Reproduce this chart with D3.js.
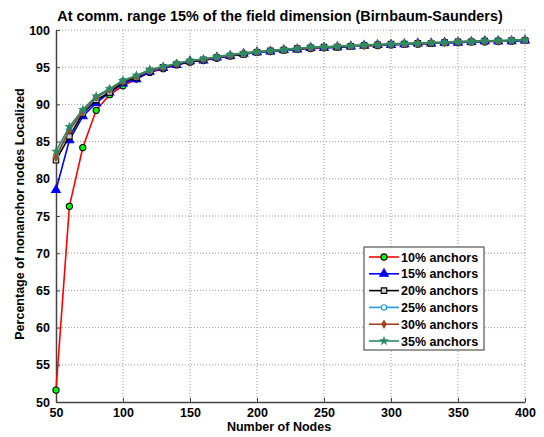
<!DOCTYPE html>
<html lang="en">
<head>
  <meta charset="UTF-8">
  <title>Birnbaum-Saunders localization</title>
  <script src="https://d3js.org/d3.v7.min.js"></script>
  <style>
    body { margin: 0; background: #fff; }
    text { font-family: Arial, "Liberation Sans", sans-serif; font-weight: bold; fill: #000; }
    .grid line { stroke: #999; stroke-dasharray: 1,2; }
    .axis path, .axis line { stroke: #444; }
  </style>
</head>
<body>
<svg id="chart" width="544" height="437"></svg>
<script>
  // data
  const nodes = d3.range(50, 401, 10);
  const labels = ["10% anchors", "15% anchors", "20% anchors", "25% anchors", "30% anchors", "35% anchors"];
  const anchors10 = [51.6, 76.3, 84.2, 89.2, 91.3, 92.5, 93.4, 94.3, 94.8, 95.3, 95.7, 95.9, 96.2, 96.5, 96.8, 97.0, 97.1, 97.3, 97.4, 97.5, 97.6, 97.7, 97.8, 97.9, 97.9, 98.0, 98.1, 98.1, 98.2, 98.3, 98.3, 98.4, 98.4, 98.5, 98.5, 98.6];
  const anchors15 = [78.5, 85.2, 88.4, 90.2, 91.6, 92.8, 93.4, 94.4, 94.9, 95.3, 95.8, 95.9, 96.3, 96.5, 96.8, 97.0, 97.1, 97.3, 97.4, 97.6, 97.6, 97.7, 97.8, 97.9, 98.0, 98.0, 98.1, 98.2, 98.2, 98.3, 98.3, 98.4, 98.5, 98.5, 98.5, 98.6];
  const anchors20 = [82.5, 85.7, 88.8, 90.6, 91.6, 93.0, 93.6, 94.5, 95.0, 95.4, 95.7, 96.0, 96.3, 96.5, 96.7, 97.0, 97.2, 97.3, 97.5, 97.6, 97.7, 97.7, 97.8, 97.9, 98.0, 98.1, 98.1, 98.2, 98.2, 98.3, 98.4, 98.4, 98.5, 98.5, 98.6, 98.6];
  const anchors25 = [83.0, 86.6, 89.0, 90.9, 92.0, 93.2, 93.8, 94.5, 95.0, 95.5, 95.8, 96.1, 96.3, 96.6, 96.8, 97.0, 97.2, 97.3, 97.5, 97.6, 97.7, 97.8, 97.8, 97.9, 98.0, 98.1, 98.1, 98.2, 98.3, 98.3, 98.4, 98.4, 98.5, 98.5, 98.6, 98.6];
  const anchors30 = [82.9, 86.5, 89.1, 91.0, 92.0, 93.1, 93.8, 94.6, 95.0, 95.5, 95.9, 96.0, 96.4, 96.6, 96.9, 97.1, 97.2, 97.4, 97.5, 97.6, 97.7, 97.8, 97.9, 97.9, 98.0, 98.1, 98.2, 98.2, 98.3, 98.3, 98.4, 98.5, 98.5, 98.5, 98.6, 98.7];
  const anchors35 = [83.7, 87.0, 89.3, 91.1, 92.1, 93.2, 93.9, 94.7, 95.1, 95.5, 95.9, 96.1, 96.4, 96.7, 96.9, 97.1, 97.2, 97.4, 97.5, 97.7, 97.7, 97.8, 97.9, 98.0, 98.0, 98.1, 98.2, 98.2, 98.3, 98.3, 98.4, 98.5, 98.5, 98.6, 98.6, 98.7];
  const xTicks = [50, 100, 150, 200, 250, 300, 350, 400];
  const yTicks = [50, 55, 60, 65, 70, 75, 80, 85, 90, 95, 100];

  // series styling (line colour, marker shape, marker fill, marker size)
  const series = [
    { name: labels[0], values: anchors10, color: "#ff0000", shape: d3.symbolCircle, fill: "#00ff00", stroke: "#000", size: 30 },
    { name: labels[1], values: anchors15, color: "#0000ff", shape: d3.symbolTriangle, fill: "#0000ff", stroke: "#0000ff", size: 32 },
    { name: labels[2], values: anchors20, color: "#000000", shape: d3.symbolSquare, fill: "#cfcfcf", stroke: "#000", size: 30 },
    { name: labels[3], values: anchors25, color: "#1e9be6", shape: d3.symbolCircle, fill: "#ffffff", stroke: "#1e9be6", size: 22 },
    { name: labels[4], values: anchors30, color: "#a0461a", shape: d3.symbolDiamond, fill: "#a0461a", stroke: "#a0461a", size: 16 },
    { name: labels[5], values: anchors35, color: "#2e8b61", shape: d3.symbolStar, fill: "#2e8b61", stroke: "#2e8b61", size: 14 }
  ];

  const svg = d3.select("#chart");
  const margin = { top: 30, right: 19, bottom: 35, left: 56 };
  const width = 544 - margin.left - margin.right;
  const height = 437 - margin.top - margin.bottom;
  const plot = svg.append("g").attr("transform", "translate(" + margin.left + "," + margin.top + ")");

  const x = d3.scaleLinear().domain([50, 400]).range([0, width]);
  const y = d3.scaleLinear().domain([50, 100]).range([height, 0]);

  // dotted grid
  plot.append("g").attr("class", "grid")
    .selectAll("line.v").data(xTicks.slice(1)).join("line")
    .attr("x1", d => x(d)).attr("x2", d => x(d)).attr("y1", 0).attr("y2", height);
  plot.append("g").attr("class", "grid")
    .selectAll("line.h").data(yTicks.slice(1)).join("line")
    .attr("x1", 0).attr("x2", width).attr("y1", d => y(d)).attr("y2", d => y(d));

  // axes, ticks pointing inward
  const xAxis = plot.append("g").attr("class", "axis")
    .attr("transform", "translate(0," + height + ")")
    .call(d3.axisBottom(x).tickValues(xTicks).tickSizeInner(-4).tickSizeOuter(0).tickPadding(6));
  const yAxis = plot.append("g").attr("class", "axis")
    .call(d3.axisLeft(y).tickValues(yTicks).tickSizeInner(-4).tickSizeOuter(0).tickPadding(6));
  xAxis.selectAll("text").style("font-size", "12.5px").style("font-weight", "bold").style("font-family", "Arial");
  yAxis.selectAll("text").style("font-size", "12.5px").style("font-weight", "bold").style("font-family", "Arial");
  xAxis.select(".domain").attr("stroke-width", 1.5);
  yAxis.select(".domain").attr("stroke-width", 1.5);

  // lines and markers
  const line = d3.line().x((d, i) => x(nodes[i])).y(d => y(d));
  series.forEach(s => {
    plot.append("path").datum(s.values)
      .attr("fill", "none").attr("stroke", s.color).attr("stroke-width", 1.6)
      .attr("d", line);
    plot.selectAll(null).data(s.values).join("path")
      .attr("transform", (d, i) => "translate(" + x(nodes[i]) + "," + y(d) + ")")
      .attr("d", d3.symbol().type(s.shape).size(s.size))
      .attr("fill", s.fill).attr("stroke", s.stroke).attr("stroke-width", 1.1);
  });

  // title and axis labels
  svg.append("text").attr("x", 280).attr("y", 21).attr("text-anchor", "middle")
    .style("font-size", "14.4px").text("At comm. range 15% of the field dimension (Birnbaum-Saunders)");
  svg.append("text").attr("x", 279).attr("y", 431).attr("text-anchor", "middle")
    .style("font-size", "12.5px").text("Number of Nodes");
  svg.append("text").attr("transform", "translate(24,214) rotate(-90)").attr("text-anchor", "middle")
    .style("font-size", "12.5px").text("Percentage of nonanchor nodes Localized");

  // legend
  const legend = svg.append("g").attr("transform", "translate(364,247)");
  legend.append("rect").attr("width", 120).attr("height", 103)
    .attr("fill", "#fff").attr("stroke", "#555").attr("stroke-width", 1.2);
  const entry = legend.selectAll("g.entry").data(series).join("g")
    .attr("transform", (d, i) => "translate(0," + (10 + i * 16.8) + ")");
  entry.append("line").attr("x1", 5).attr("x2", 35)
    .attr("stroke", d => d.color).attr("stroke-width", 1.6);
  entry.append("path").attr("transform", "translate(20,0)")
    .attr("d", d => d3.symbol().type(d.shape).size(d.size)())
    .attr("fill", d => d.fill).attr("stroke", d => d.stroke).attr("stroke-width", 1.1);
  entry.append("text").attr("x", 37).attr("y", 4.5)
    .style("font-size", "12.5px").text(d => d.name);
</script>
</body>
</html>
